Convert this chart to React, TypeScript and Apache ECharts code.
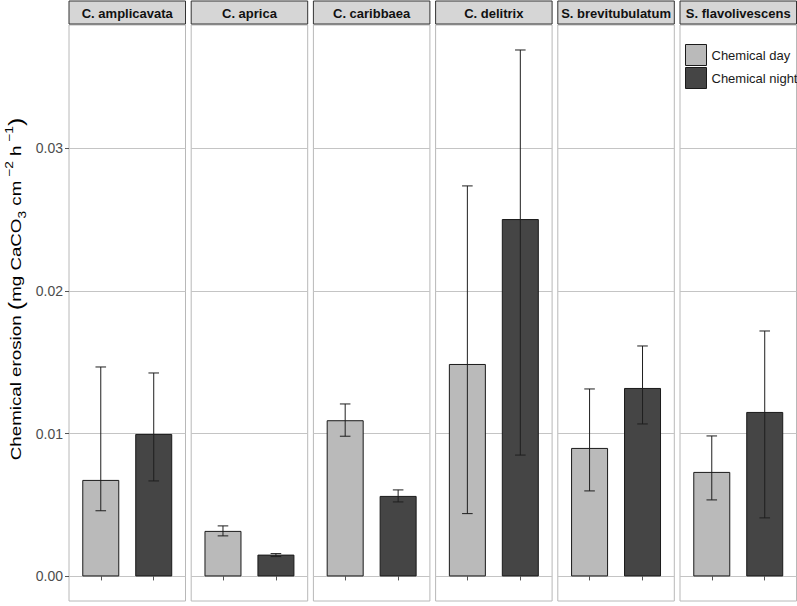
import React, { useEffect, useRef } from "react";
import * as echarts from "echarts";

const categories = ["C. amplicavata", "C. aprica", "C. caribbaea", "C. delitrix", "S. brevitubulatum", "S. flavolivescens"];
const seriesNames = ["Chemical day", "Chemical night"];
const dayMean = [0.00676, 0.00319, 0.01094, 0.01488, 0.0090, 0.00732];
const dayLow = [0.0046, 0.00284, 0.00982, 0.0044, 0.00599, 0.00536];
const dayHigh = [0.01467, 0.00354, 0.01208, 0.02735, 0.01313, 0.00984];
const nightMean = [0.00998, 0.00153, 0.00564, 0.02503, 0.0132, 0.01152];
const nightLow = [0.00669, 0.00139, 0.00522, 0.0085, 0.01068, 0.0041];
const nightHigh = [0.01425, 0.0016, 0.00606, 0.03687, 0.01614, 0.01719];
const yTicks = [0, 0.01, 0.02, 0.03];
const yTickLabels = ["0.00", "0.01", "0.02", "0.03"];

const FONT = "'Liberation Sans', Arial, sans-serif";

export default function App() {
  const ref = useRef<HTMLDivElement>(null);
  useEffect(() => {
    if (!ref.current) return;
    const chart = echarts.init(ref.current, null, { renderer: "svg" });
    const left0 = 69;
    const step = 122.2;
    const pw = 116.5;
    const top = 25;
    const bottomY = 601;
    const yMin = -0.00172;
    const yMax = 0.03862;

    const grids: any[] = [];
    const xAxes: any[] = [];
    const yAxes: any[] = [];
    const series: any[] = [];
    const graphics: any[] = [];

    categories.forEach((cat, i) => {
      const l = left0 + i * step;
      grids.push({
        left: l,
        top,
        width: pw,
        height: bottomY - top,
        show: true,
        borderColor: "#b8b8b8",
        borderWidth: 1,
        backgroundColor: "#ffffff",
      });
      xAxes.push({
        type: "value",
        gridIndex: i,
        min: 0.4,
        max: 2.6,
        axisLine: { show: false },
        axisLabel: { show: false },
        axisTick: { show: true, length: 4, customValues: [1, 2], lineStyle: { color: "#555" } },
        splitLine: { show: false },
      });
      yAxes.push({
        type: "value",
        gridIndex: i,
        min: yMin,
        max: yMax,
        axisLine: { show: false },
        axisTick: { show: i === 0, length: 4, customValues: yTicks, lineStyle: { color: "#555" } },
        axisLabel: {
          show: i === 0,
          customValues: yTicks,
          formatter: (v: number) => yTickLabels[yTicks.findIndex((t) => Math.abs(t - v) < 1e-9)] ?? "",
          color: "#4d4d4d",
          fontSize: 14,
          fontFamily: FONT,
          margin: 6,
        },
        splitLine: { show: true, customValues: yTicks, lineStyle: { color: "#c4c4c4", width: 1 } },
      });
      series.push({
        name: seriesNames[0],
        type: "bar",
        xAxisIndex: i,
        yAxisIndex: i,
        stack: "p" + i,
        barWidth: 37,
        itemStyle: { color: "#bababa", borderColor: "#1a1a1a", borderWidth: 1 },
        data: [[1, dayMean[i]]],
        z: 2,
      });
      series.push({
        name: seriesNames[1],
        type: "bar",
        xAxisIndex: i,
        yAxisIndex: i,
        stack: "p" + i,
        barWidth: 37,
        itemStyle: { color: "#454545", borderColor: "#1a1a1a", borderWidth: 1 },
        data: [[2, nightMean[i]]],
        z: 2,
      });
      series.push({
        type: "custom",
        xAxisIndex: i,
        yAxisIndex: i,
        z: 5,
        encode: { x: 0, y: [1, 2] },
        data: [
          [1, dayLow[i], dayHigh[i]],
          [2, nightLow[i], nightHigh[i]],
        ],
        renderItem: (params: any, api: any) => {
          const x = api.value(0);
          const lo = api.value(1);
          const hi = api.value(2);
          const pHi = api.coord([x, hi]);
          const pLo = api.coord([x, lo]);
          const half = api.size([0.1, 0])[0];
          const style = { stroke: "#1f1f1f", lineWidth: 1 };
          return {
            type: "group",
            children: [
              { type: "line", shape: { x1: pHi[0], y1: pHi[1], x2: pLo[0], y2: pLo[1] }, style },
              { type: "line", shape: { x1: pHi[0] - half, y1: pHi[1], x2: pHi[0] + half, y2: pHi[1] }, style },
              { type: "line", shape: { x1: pLo[0] - half, y1: pLo[1], x2: pLo[0] + half, y2: pLo[1] }, style },
            ],
          };
        },
      });
      graphics.push({
        type: "rect",
        shape: { x: l, y: 1, width: pw, height: 23 },
        style: { fill: "#d6d6d6", stroke: "#333333", lineWidth: 1 },
        z: 10,
      });
      graphics.push({
        type: "text",
        x: l + pw / 2,
        y: 13,
        style: {
          text: cat,
          align: "center",
          verticalAlign: "middle",
          fontSize: 13,
          fontWeight: "bold",
          fontFamily: FONT,
          fill: "#111111",
        },
        z: 11,
      });
    });

    graphics.push({
      type: "text",
      x: 16,
      y: 289,
      rotation: Math.PI / 2,
      scaleX: 1.25,
      style: {
        text: "{a|Chemical erosion }{b|(}{a|mg CaCO}{s|3}{a| cm}{p| −2}{a| h}{p| −1}{b|)}",
        align: "center",
        verticalAlign: "middle",
        fontFamily: FONT,
        rich: {
          a: { fontSize: 15, fill: "#000", fontFamily: FONT, lineHeight: 24, verticalAlign: "middle" },
          b: { fontSize: 20, fill: "#000", fontFamily: FONT, lineHeight: 24, verticalAlign: "middle" },
          s: { fontSize: 11, fill: "#000", fontFamily: FONT, lineHeight: 24, verticalAlign: "bottom" },
          p: { fontSize: 11, fill: "#000", fontFamily: FONT, lineHeight: 24, verticalAlign: "top" },
        },
      },
    });

    chart.setOption({
      animation: false,
      backgroundColor: "#ffffff",
      grid: grids,
      xAxis: xAxes,
      yAxis: yAxes,
      series,
      graphic: graphics,
      legend: {
        orient: "vertical",
        left: 685,
        top: 44,
        padding: 0,
        itemWidth: 21,
        itemHeight: 21,
        itemGap: 1,
        icon: "rect",
        selectedMode: false,
        textStyle: { fontSize: 13, color: "#1a1a1a", fontFamily: FONT },
        data: [
          { name: seriesNames[0], itemStyle: { borderColor: "#1a1a1a", borderWidth: 1 } },
          { name: seriesNames[1], itemStyle: { borderColor: "#1a1a1a", borderWidth: 1 } },
        ],
      },
    });
    return () => chart.dispose();
  }, []);
  return <div ref={ref} style={{ width: 797, height: 606, position: "absolute", left: 0, top: 0 }} />;
}
